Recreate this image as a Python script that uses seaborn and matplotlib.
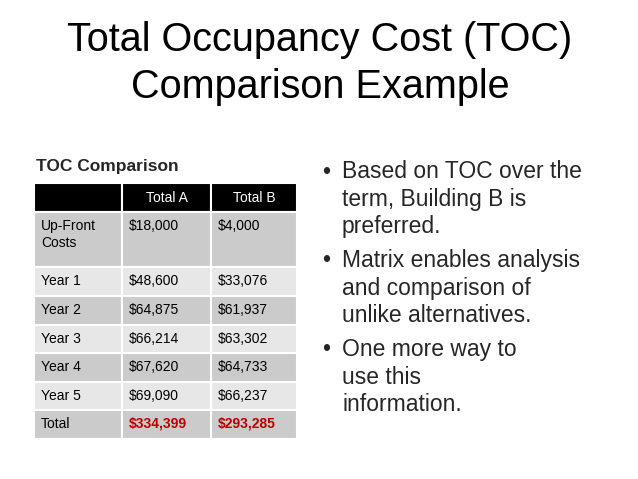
import matplotlib
matplotlib.use("Agg")
import matplotlib.pyplot as plt
import seaborn as sns
from matplotlib.patches import Rectangle

sns.set_theme(style="white")

title_lines = ["Total Occupancy Cost (TOC)", "Comparison Example"]
table_title = "TOC Comparison"
col_headers = ["", "Total A", "Total B"]
row_labels = ["Up-Front\nCosts", "Year 1", "Year 2", "Year 3", "Year 4", "Year 5", "Total"]
total_a = ["$18,000", "$48,600", "$64,875", "$66,214", "$67,620", "$69,090", "$334,399"]
total_b = ["$4,000", "$33,076", "$61,937", "$63,302", "$64,733", "$66,237", "$293,285"]
bullets = [
    ["Based on TOC over the", "term, Building B is", "preferred."],
    ["Matrix enables analysis", "and comparison of", "unlike alternatives."],
    ["One more way to", "use this", "information."],
]

fig = plt.figure(figsize=(6.38, 4.79), dpi=100)
ax = fig.add_axes([0, 0, 1, 1])
ax.set_xlim(0, 638)
ax.set_ylim(479, 0)
ax.axis("off")

for i, t in enumerate(title_lines):
    ax.text(320, 40 + i * 47, t, ha="center", va="center", fontsize=28.5,
            family="Liberation Sans", color="black")

ax.text(36, 167, table_title, ha="left", va="center", fontsize=12.5,
        fontweight="bold", family="Liberation Sans")

cols_x = [34, 122, 211, 297]
rows_y = [183, 212, 267, 296, 325, 353, 382, 410, 439]
fills = ["#cbcbcb", "#e7e7e7"]

for c in range(3):
    ax.add_patch(Rectangle((cols_x[c], rows_y[0]), cols_x[c + 1] - cols_x[c],
                           rows_y[1] - rows_y[0], facecolor="black",
                           edgecolor="white", lw=1.5))
    ax.text((cols_x[c] + cols_x[c + 1]) / 2, (rows_y[0] + rows_y[1]) / 2,
            col_headers[c], ha="center", va="center", color="white",
            fontsize=10, family="Liberation Sans")

for r in range(len(row_labels)):
    y0, y1 = rows_y[r + 1], rows_y[r + 2]
    vals = [row_labels[r], total_a[r], total_b[r]]
    for c in range(3):
        ax.add_patch(Rectangle((cols_x[c], y0), cols_x[c + 1] - cols_x[c], y1 - y0,
                               facecolor=fills[r % 2], edgecolor="white", lw=1.5))
        is_total = (r == len(row_labels) - 1 and c > 0)
        ax.text(cols_x[c] + 7, y0 + 7, vals[c], ha="left", va="top",
                fontsize=10, family="Liberation Sans", linespacing=1.3,
                color="#c00000" if is_total else "black",
                fontweight="bold" if is_total else "normal")

y = 172
for b in bullets:
    ax.text(322, y, "•", ha="left", va="center", fontsize=16.5, family="Liberation Sans")
    for line in b:
        ax.text(342, y, line, ha="left", va="center", fontsize=16.5, family="Liberation Sans")
        y += 27.3
    y += 7

fig.savefig("out.png", dpi=100)
